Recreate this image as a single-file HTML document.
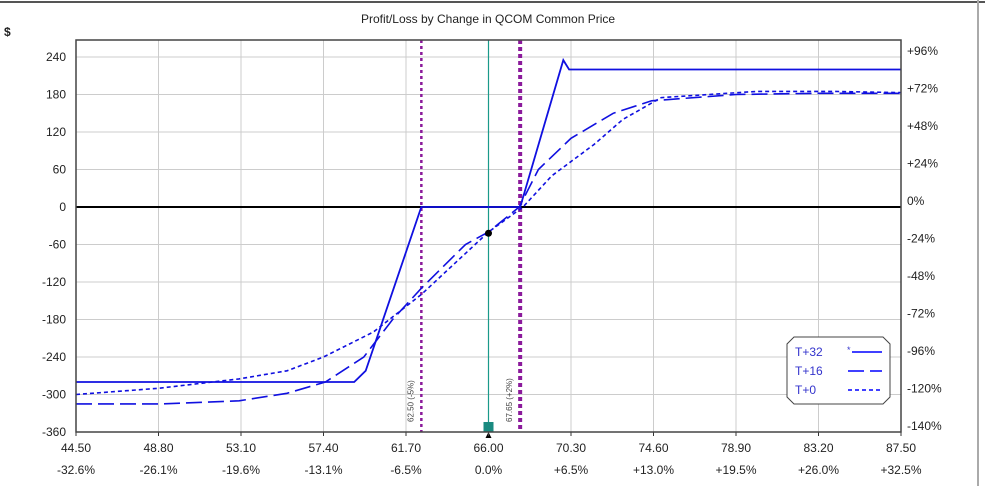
<!DOCTYPE html>
<html><head><meta charset="utf-8"><style>
body{margin:0;background:#fff;}
svg text{font-family:"Liberation Sans","DejaVu Sans",sans-serif;font-size:12px;fill:#222;}
</style></head><body>
<svg id="chart" width="985" height="486" xmlns="http://www.w3.org/2000/svg">
<rect x="0" y="0" width="985" height="486" fill="#fff"/>
<line x1="0" y1="2" x2="985" y2="2" stroke="#555" stroke-width="2"/>
<line x1="978" y1="0" x2="978" y2="486" stroke="#aaa" stroke-width="2"/>
<text x="488" y="23" text-anchor="middle">Profit/Loss by Change in QCOM Common Price</text>
<text x="4" y="36" font-weight="bold">$</text>
<g id="grid"></g><g id="marks"></g><g id="axes"></g>
<g>
<path d="M794,337 H883 L890,344 V397 L883,404 H794 L787,397 V344 Z" fill="#fff" stroke="#444"/>
<text x="795" y="356" style="fill:#33c">T+32</text>
<text x="795" y="375" style="fill:#33c">T+16</text>
<text x="795" y="394" style="fill:#33c">T+0</text>
<text x="847" y="353" style="fill:#33c;font-size:9px">*</text>
<line x1="852" y1="352" x2="882" y2="352" stroke="#00f" stroke-width="1.5"/>
<line x1="848" y1="371" x2="882" y2="371" stroke="#00f" stroke-width="1.5" stroke-dasharray="16,6"/>
<line x1="848" y1="390" x2="882" y2="390" stroke="#00f" stroke-width="1.5" stroke-dasharray="4,3"/>
</g>
</svg>
<script>
const xTicks=[44.5,48.8,53.1,57.4,61.7,66.0,70.3,74.6,78.9,83.2,87.5];
const xPctLabels=["-32.6%","-26.1%","-19.6%","-13.1%","-6.5%","0.0%","+6.5%","+13.0%","+19.5%","+26.0%","+32.5%"];
const yTicks=[240,180,120,60,0,-60,-120,-180,-240,-300,-360];
const rightLabels=["+96%","+72%","+48%","+24%","0%","-24%","-48%","-72%","-96%","-120%","-140%"];
const t32X=[44.5,59.0,59.6,62.5,67.65,69.9,70.2,87.5];
const t32Y=[-280,-280,-262,0,0,235,220,220];
const t16X=[44.5,49,53,55.5,57.5,59.5,61,62.5,64.8,66,67.6,68.6,70.3,72.5,74.5,78.9,83.2,87.5];
const t16Y=[-315,-315,-310,-298,-280,-240,-180,-130,-60,-40,0,60,110,150,170,180,182,182];
const t0X=[44.5,48.8,53,55.5,57.4,60,62.5,66,67.8,69.3,71.5,73,75,80,84,87.5];
const t0Y=[-300,-290,-275,-262,-240,-200,-140,-40,0,50,100,140,175,185,185,183];
const strikes=[62.5,67.65];const strikeLabels=["62.50 (-5%)","67.65 (+2%)"];
const current=66.0, currentPL=-42;
const L=76,R=901,T=40,B=432;
const sx=v=>L+(v-44.5)/(87.5-44.5)*(R-L);
const sy=v=>207-v*0.625;
const NS="http://www.w3.org/2000/svg";
function mk(parent,tag,attrs,text){const e=document.createElementNS(NS,tag);for(const k in attrs)e.setAttribute(k,attrs[k]);if(text!==undefined)e.textContent=text;document.getElementById(parent).appendChild(e);return e;}
mk("grid","rect",{x:L,y:T,width:R-L,height:B-T,fill:"#fff",stroke:"none"});
xTicks.forEach((v,i)=>{
 const g=mk("grid","line",{x1:sx(v),y1:T,x2:sx(v),y2:B,stroke:"#ccc"});
 
 
 const t=mk("axes","text",{x:sx(v),y:452,"text-anchor":"middle"},v.toFixed(2));
 
 
 const p=mk("axes","text",{x:sx(v),y:474,"text-anchor":"middle"},xPctLabels[i]);
 
 
 mk("axes","line",{x1:sx(v),y1:B,x2:sx(v),y2:B+4,stroke:"#333"});
});
yTicks.forEach((v,i)=>{
 if(v!==0&&v!==-360){const g=mk("grid","line",{x1:L,y1:sy(v),x2:R,y2:sy(v),stroke:"#ccc"});
 
 }
 const t=mk("axes","text",{x:66,y:sy(v)+4,"text-anchor":"end"},String(v));
 
 
 const r=mk("axes","text",{x:907,y:sy(v)-2,"text-anchor":"start"},rightLabels[i]);
 
 
});
const z=mk("marks","line",{x1:L,y1:sy(0),x2:R,y2:sy(0),stroke:"#000","stroke-width":2});


strikes.forEach((s,i)=>{
 const l=mk("marks","line",{x1:sx(s),y1:T,x2:sx(s),y2:B,stroke:"#8b1a9b","stroke-width":i?4:2.5,"stroke-dasharray":i?"4,3":"3,3"});
 
 
 const t=mk("marks","text",{x:0,y:0,transform:`translate(${sx(s)-8},${B-10}) rotate(-90)`,style:"font-size:8px;fill:#444"},strikeLabels[i]);
 
 
});
const cl=mk("marks","line",{x1:sx(current),y1:T,x2:sx(current),y2:B,stroke:"#1a9a8a","stroke-width":1.2});


function series(xs,ys,dash,w,name){
 const d=xs.map((x,i)=>(i?"L":"M")+sx(x).toFixed(1)+","+sy(ys[i]).toFixed(1)).join(" ");
 const p=mk("marks","path",{d:d,fill:"none",stroke:"#1010e0","stroke-width":w,"stroke-dasharray":dash});
 
 
}
series(t0X,t0Y,"4,3",1.6,"series-t0");
series(t16X,t16Y,"16,6",1.6,"series-t16");
series(t32X,t32Y,"none",1.8,"series-t32");
const dot=mk("marks","circle",{cx:sx(current),cy:sy(currentPL),r:3.5,fill:"#000"});


const sq=mk("marks","rect",{x:sx(current)-5,y:B-10,width:10,height:10,fill:"#1a8a80"});


mk("marks","path",{d:`M${sx(current)-3},${B+6} L${sx(current)+3},${B+6} L${sx(current)},${B} Z`,fill:"#000"});
const fr=mk("axes","rect",{x:L,y:T,width:R-L,height:B-T,fill:"none",stroke:"#444","stroke-width":1.5});


</script>
</body></html>
